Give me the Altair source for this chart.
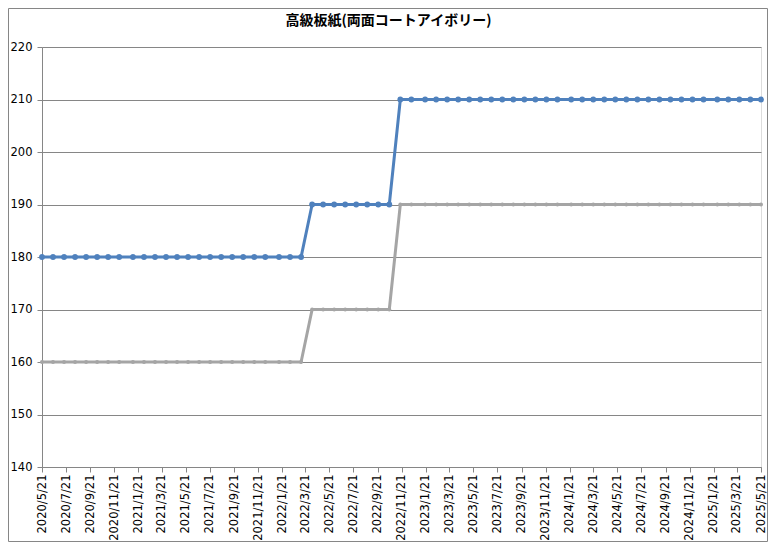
import altair as alt
import pandas as pd

title_text = "高級板紙(両面コートアイボリー)"

dates = [
    "2020-05-21", "2020-06-18", "2020-07-16", "2020-08-13", "2020-09-10", "2020-10-08",
    "2020-11-05", "2020-12-03", "2021-01-07", "2021-02-04", "2021-03-04", "2021-04-01",
    "2021-04-29", "2021-05-27", "2021-06-24", "2021-07-22", "2021-08-19", "2021-09-16",
    "2021-10-14", "2021-11-11", "2021-12-09", "2022-01-13", "2022-02-10", "2022-03-10",
    "2022-04-07", "2022-05-05", "2022-06-02", "2022-06-30", "2022-07-28", "2022-08-25",
    "2022-09-22", "2022-10-20", "2022-11-17", "2022-12-15", "2023-01-19", "2023-02-16",
    "2023-03-16", "2023-04-13", "2023-05-11", "2023-06-08", "2023-07-06", "2023-08-03",
    "2023-08-31", "2023-09-28", "2023-10-26", "2023-11-23", "2023-12-21", "2024-01-25",
    "2024-02-22", "2024-03-21", "2024-04-18", "2024-05-16", "2024-06-13", "2024-07-11",
    "2024-08-08", "2024-09-05", "2024-10-03", "2024-10-31", "2024-11-28", "2024-12-26",
    "2025-01-30", "2025-02-27", "2025-03-27", "2025-04-24", "2025-05-21",
]

blue_values = [
    180, 180, 180, 180, 180, 180, 180, 180, 180, 180, 180, 180,
    180, 180, 180, 180, 180, 180, 180, 180, 180, 180, 180, 180,
    190, 190, 190, 190, 190, 190, 190, 190,
    210, 210, 210, 210, 210, 210, 210, 210, 210, 210, 210, 210,
    210, 210, 210, 210, 210, 210, 210, 210, 210, 210, 210, 210,
    210, 210, 210, 210, 210, 210, 210, 210, 210,
]

grey_values = [
    160, 160, 160, 160, 160, 160, 160, 160, 160, 160, 160, 160,
    160, 160, 160, 160, 160, 160, 160, 160, 160, 160, 160, 160,
    170, 170, 170, 170, 170, 170, 170, 170,
    190, 190, 190, 190, 190, 190, 190, 190, 190, 190, 190, 190,
    190, 190, 190, 190, 190, 190, 190, 190, 190, 190, 190, 190,
    190, 190, 190, 190, 190, 190, 190, 190, 190,
]

tick_labels = [
    "2020/5/21", "2020/7/21", "2020/9/21", "2020/11/21", "2021/1/21", "2021/3/21",
    "2021/5/21", "2021/7/21", "2021/9/21", "2021/11/21", "2022/1/21", "2022/3/21",
    "2022/5/21", "2022/7/21", "2022/9/21", "2022/11/21", "2023/1/21", "2023/3/21",
    "2023/5/21", "2023/7/21", "2023/9/21", "2023/11/21", "2024/1/21", "2024/3/21",
    "2024/5/21", "2024/7/21", "2024/9/21", "2024/11/21", "2025/1/21", "2025/3/21",
    "2025/5/21",
]

y_ticks = [140, 150, 160, 170, 180, 190, 200, 210, 220]

BLUE = "#4f81bd"
GREY = "#a5a5a5"
AXIS_GREY = "#868686"


def to_dt(label):
    y, m, d = [int(p) for p in label.split("/")]
    return alt.DateTime(year=y, month=m, date=d, utc=True)


tick_values = [to_dt(t) for t in tick_labels]

df = pd.DataFrame({
    "date": dates * 2,
    "value": blue_values + grey_values,
    "series": ["blue"] * len(dates) + ["grey"] * len(dates),
})

x_enc = alt.X(
    "date:T",
    scale=alt.Scale(type="utc", domain=[to_dt("2020/5/21"), to_dt("2025/5/21")]),
    axis=alt.Axis(
        values=tick_values,
        labelExpr="utcFormat(datum.value, '%Y/%-m/%-d')",
        labelAngle=270,
        grid=False,
        title=None,
        domainColor=AXIS_GREY,
        tickColor=AXIS_GREY,
        tickSize=5,
        labelPadding=2,
        labelFont="DejaVu Sans",
        labelFontSize=11.5,
        labelColor="#000000",
        labelOverlap=False,
    ),
)

y_enc = alt.Y(
    "value:Q",
    scale=alt.Scale(domain=[140, 220], nice=False, zero=False),
    axis=alt.Axis(
        values=y_ticks,
        title=None,
        grid=True,
        gridColor=AXIS_GREY,
        gridWidth=1,
        domainColor=AXIS_GREY,
        tickColor=AXIS_GREY,
        tickSize=5,
        labelPadding=5,
        labelFont="DejaVu Sans",
        labelFontSize=11.5,
        labelColor="#000000",
    ),
)

base = alt.Chart(df)

grey_line = base.transform_filter(alt.datum.series == "grey").mark_line(
    color=GREY, strokeWidth=3, strokeJoin="round"
).encode(x=x_enc, y=y_enc)
grey_pts = base.transform_filter(alt.datum.series == "grey").mark_circle(
    color=GREY, size=16, opacity=1
).encode(x=x_enc, y=y_enc)

blue_line = base.transform_filter(alt.datum.series == "blue").mark_line(
    color=BLUE, strokeWidth=3, strokeJoin="round"
).encode(x=x_enc, y=y_enc)
blue_pts = base.transform_filter(alt.datum.series == "blue").mark_circle(
    color=BLUE, size=34, opacity=1
).encode(x=x_enc, y=y_enc)

frame = alt.Chart(pd.DataFrame({"k": [0]})).mark_rect(
    fill=None, stroke=AXIS_GREY, strokeWidth=1
).encode(
    x=alt.value(-33.5), x2=alt.value(725.5), y=alt.value(-38.5), y2=alt.value(494.5)
)

chart = alt.layer(grey_line, grey_pts, blue_line, blue_pts, frame).properties(
    width=719,
    height=420,
    title=alt.TitleParams(
        text=title_text,
        font="Noto Sans CJK JP",
        fontSize=14,
        fontWeight="bold",
        color="#000000",
        anchor="middle",
        offset=18,
        dy=38,
        dx=-13,
    ),
    autosize=alt.AutoSizeParams(type="none"),
    padding={"left": 34, "top": 39, "right": 7, "bottom": 75},
).configure_view(stroke=None).configure(background="white")

chart.save("out.html", embed_options={"renderer": "svg", "actions": False})
